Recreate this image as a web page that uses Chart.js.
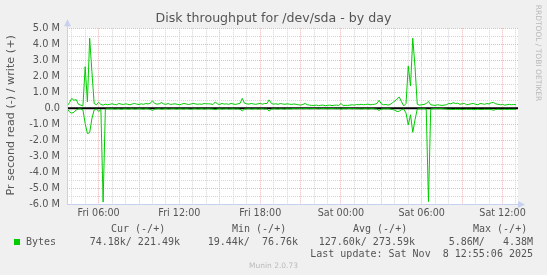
<!DOCTYPE html>
<html>
<head>
<meta charset="utf-8">
<script src="https://cdn.jsdelivr.net/npm/chart.js@4/dist/chart.umd.min.js"></script>
<style>
  html, body { margin: 0; padding: 0; background: #f0f0f0; }
  canvas { display: block; }
</style>
</head>
<body>
<canvas id="chart" width="547" height="275"></canvas>
<script>
/* Munin "Disk throughput for /dev/sda - by day" */

// samples every 10 minutes, starting Fri 03:40 (hours since Fri 00:00)
const START_H = 3 + 40 / 60;
const STEP_H = 10 / 60;

// bytes per second, in millions; write is positive, read negative
const WRITE_M = [
  0.15,0.35,0.62,0.50,0.55,0.25,0.20,0.15,2.60,0.40,
  4.38,2.30,0.30,0.22,0.38,0.24,0.20,0.26,0.22,0.25,
  0.28,0.24,0.22,0.30,0.26,0.24,0.28,0.25,0.22,0.27,
  0.30,0.26,0.24,0.28,0.25,0.30,0.27,0.32,0.46,0.30,
  0.26,0.28,0.36,0.27,0.25,0.30,0.24,0.26,0.28,0.25,
  0.22,0.26,0.30,0.27,0.24,0.26,0.30,0.28,0.25,0.27,
  0.25,0.30,0.28,0.28,0.27,0.24,0.40,0.26,0.25,0.30,
  0.26,0.28,0.25,0.30,0.27,0.24,0.28,0.30,0.62,0.32,
  0.28,0.26,0.30,0.27,0.25,0.28,0.30,0.26,0.30,0.30,
  0.53,0.30,0.26,0.28,0.25,0.30,0.27,0.25,0.28,0.26,
  0.24,0.27,0.25,0.22,0.20,0.24,0.30,0.22,0.20,0.18,
  0.18,0.20,0.17,0.19,0.20,0.16,0.18,0.20,0.17,0.19,
  0.20,0.18,0.30,0.17,0.19,0.18,0.20,0.22,0.20,0.24,
  0.22,0.25,0.22,0.24,0.26,0.22,0.24,0.25,0.30,0.50,
  0.28,0.22,0.24,0.20,0.25,0.35,0.45,0.60,0.70,0.40,
  0.15,0.30,2.65,1.40,4.38,2.60,0.25,0.20,0.22,0.24,
  0.30,0.43,0.22,0.20,0.18,0.22,0.20,0.18,0.20,0.22,
  0.30,0.28,0.35,0.30,0.32,0.25,0.28,0.30,0.22,0.25,
  0.28,0.30,0.25,0.22,0.30,0.28,0.25,0.30,0.27,0.35,
  0.36,0.28,0.25,0.22,0.24,0.20,0.22,0.25,0.22,0.24,0.22
];
const READ_M = [
  -0.05,-0.22,-0.30,-0.25,-0.10,-0.05,-0.04,-0.10,-0.95,-1.58,
  -1.52,-0.65,-0.10,-0.04,-0.20,-0.08,-5.86,-0.05,-0.03,-0.04,
  -0.03,-0.05,-0.04,-0.03,-0.06,-0.04,-0.03,-0.05,-0.04,-0.03,
  -0.05,-0.04,-0.03,-0.04,-0.05,-0.03,-0.04,-0.06,-0.14,-0.05,
  -0.04,-0.03,-0.06,-0.04,-0.03,-0.05,-0.04,-0.03,-0.04,-0.05,
  -0.03,-0.04,-0.05,-0.03,-0.04,-0.06,-0.04,-0.03,-0.05,-0.04,
  -0.03,-0.05,-0.04,-0.03,-0.04,-0.05,-0.08,-0.04,-0.03,-0.05,
  -0.04,-0.03,-0.05,-0.04,-0.03,-0.05,-0.04,-0.06,-0.16,-0.05,
  -0.04,-0.03,-0.05,-0.04,-0.03,-0.05,-0.04,-0.03,-0.05,-0.04,
  -0.17,-0.05,-0.03,-0.04,-0.05,-0.03,-0.04,-0.05,-0.03,-0.04,
  -0.03,-0.02,-0.03,-0.02,-0.02,-0.03,-0.02,-0.02,-0.03,-0.02,
  -0.02,-0.02,-0.03,-0.02,-0.02,-0.02,-0.03,-0.02,-0.02,-0.02,
  -0.03,-0.02,-0.05,-0.02,-0.03,-0.02,-0.02,-0.03,-0.02,-0.03,
  -0.03,-0.04,-0.03,-0.02,-0.04,-0.03,-0.02,-0.04,-0.05,-0.13,
  -0.05,-0.03,-0.04,-0.03,-0.05,-0.08,-0.12,-0.20,-0.18,-0.08,
  -0.05,-0.30,-1.04,-0.40,-1.50,-0.72,-0.05,-0.03,-0.04,-0.03,
  -0.05,-5.83,-0.04,-0.03,-0.02,-0.03,-0.02,-0.03,-0.04,-0.05,
  -0.07,-0.06,-0.08,-0.06,-0.07,-0.06,-0.08,-0.07,-0.06,-0.07,
  -0.06,-0.08,-0.07,-0.06,-0.07,-0.08,-0.06,-0.07,-0.06,-0.08,
  -0.12,-0.07,-0.06,-0.07,-0.08,-0.06,-0.07,-0.06,-0.07,-0.06,-0.07
];

const TICK_HOURS = [6, 12, 18, 24, 30, 36];
const TICK_LABELS = ['Fri 06:00', 'Fri 12:00', 'Fri 18:00', 'Sat 00:00', 'Sat 06:00', 'Sat 12:00'];

const TITLE = 'Disk throughput for /dev/sda - by day';
const Y_TITLE = 'Pr second read (-) / write (+)';
const SERIES_NAME = 'Bytes';
const LEGEND_HEADS = ['Cur (-/+)', 'Min (-/+)', 'Avg (-/+)', 'Max (-/+)'];
const LEGEND_VALUES = ['74.18k/ 221.49k', '19.44k/  76.76k', '127.60k/ 273.59k', '5.86M/   4.38M'];
const LAST_UPDATE = 'Last update: Sat Nov  8 12:55:06 2025';
const VERSION = 'Munin 2.0.73';
const WATERMARK = 'RRDTOOL / TOBI OETIKER';

const GREEN = '#00cc00';
const AXIS = '#c8d0f0';
const MAJOR = '#efb4b4';
const MINOR = '#d4d4d4';
const SANS = "'DejaVu Sans', sans-serif";
const MONO = "'DejaVu Sans Mono', monospace";

const toPoints = arr => arr.map((v, i) => ({ x: START_H + i * STEP_H, y: v }));

/* ---- background, zero rule, axes and texts ---- */
const muninPlugin = {
    id: 'munin',
    beforeDraw(chart) {
        const { ctx, chartArea: a } = chart;
        ctx.save();
        ctx.fillStyle = '#f0f0f0';
        ctx.fillRect(0, 0, chart.width, chart.height);
        ctx.fillStyle = '#ffffff';
        ctx.fillRect(a.left, a.top, a.right - a.left, a.bottom - a.top);
        ctx.restore();
    },
    beforeDatasetsDraw(chart) {
        const { ctx, chartArea: a } = chart;
        const y0 = chart.scales.y.getPixelForValue(0);
        ctx.save();
        ctx.strokeStyle = '#000';
        ctx.lineWidth = 2;
        ctx.beginPath();
        ctx.moveTo(a.left, y0);
        ctx.lineTo(a.right, y0);
        ctx.stroke();
        ctx.restore();
    },
    afterDraw(chart) {
        const { ctx, chartArea: a } = chart;
        const L = Math.round(a.left) + 0.5, B = Math.round(a.bottom) + 0.5;
        ctx.save();
        // axes with arrows
        ctx.strokeStyle = AXIS; ctx.fillStyle = AXIS; ctx.lineWidth = 1;
        ctx.beginPath();
        ctx.moveTo(L, B); ctx.lineTo(L, a.top - 5);
        ctx.moveTo(L, B); ctx.lineTo(a.right + 2, B);
        ctx.stroke();
        ctx.beginPath();
        ctx.moveTo(L, a.top - 9); ctx.lineTo(L - 3.5, a.top - 2); ctx.lineTo(L + 3.5, a.top - 2); ctx.closePath();
        ctx.fill();
        ctx.beginPath();
        ctx.moveTo(a.right + 7, B); ctx.lineTo(a.right, B - 3.5); ctx.lineTo(a.right, B + 3.5); ctx.closePath();
        ctx.fill();

        // title
        ctx.fillStyle = '#555';
        ctx.font = '12.6px ' + SANS;
        ctx.textAlign = 'center'; ctx.textBaseline = 'middle';
        ctx.fillText(TITLE, chart.width / 2, 19);

        // y axis title
        ctx.save();
        ctx.translate(11, (a.top + a.bottom) / 2 - 1);
        ctx.rotate(-Math.PI / 2);
        ctx.font = '11.2px ' + SANS;
        ctx.fillText(Y_TITLE, 0, 0);
        ctx.restore();

        // watermark
        ctx.save();
        ctx.translate(538, 53);
        ctx.rotate(Math.PI / 2);
        ctx.fillStyle = '#b8b8b8';
        ctx.font = '7.5px ' + SANS;
        ctx.fillText(WATERMARK, 0, 0);
        ctx.restore();

        // legend
        ctx.font = '10px ' + MONO;
        ctx.fillStyle = '#555';
        ctx.textAlign = 'left';
        [111, 232, 353, 473].forEach((x, i) => ctx.fillText(LEGEND_HEADS[i], x, 229));
        ctx.fillText(SERIES_NAME, 26, 242);
        ctx.textAlign = 'right';
        [180, 298, 415, 533].forEach((x, i) => ctx.fillText(LEGEND_VALUES[i], x, 242));
        ctx.fillText(LAST_UPDATE, 533, 254);
        ctx.fillStyle = GREEN;
        ctx.fillRect(14, 239, 6, 6);

        ctx.fillStyle = '#bbb';
        ctx.textAlign = 'center';
        ctx.font = '7.5px ' + SANS;
        ctx.fillText(VERSION, chart.width / 2, 266);
        ctx.restore();
    }
};

const HOUR_TICKS = [];
for (let h = 4; h <= 37; h++) HOUR_TICKS.push(h);
const HALF_M_TICKS = [];
for (let v = -12; v <= 10; v++) HALF_M_TICKS.push(v / 2);

new Chart(document.getElementById('chart').getContext('2d'), {
    type: 'line',
    data: {
        datasets: [
            { label: 'read', data: toPoints(READ_M), borderColor: GREEN, borderWidth: 1, pointRadius: 0, tension: 0 },
            { label: 'write', data: toPoints(WRITE_M), borderColor: GREEN, borderWidth: 1, pointRadius: 0, tension: 0 }
        ]
    },
    options: {
        responsive: false, animation: false, devicePixelRatio: 1, events: [],
        layout: { padding: { top: 28.3, right: 29, left: 0, bottom: 0 } },
        plugins: { legend: { display: false }, title: { display: false }, tooltip: { enabled: false } },
        scales: {
            x: {
                type: 'linear', min: 3.65, max: 37.15,
                afterBuildTicks: s => { s.ticks = HOUR_TICKS.map(v => ({ value: v })); },
                afterFit: s => { s.height = 70.7; },
                grid: { drawTicks: false, color: c => (c.tick.value % 3 === 0 ? MAJOR : MINOR) },
                border: { display: false, dash: [1, 1] },
                ticks: {
                    autoSkip: false, maxRotation: 0, padding: 3.5, color: '#555', font: { family: SANS, size: 9.6 },
                    callback: v => { const i = TICK_HOURS.indexOf(v); return i >= 0 ? TICK_LABELS[i] : ''; }
                }
            },
            y: {
                min: -6, max: 5,
                afterBuildTicks: s => { s.ticks = HALF_M_TICKS.map(v => ({ value: v })); },
                afterFit: s => { s.width = 67; },
                grid: { drawTicks: false, color: c => (Number.isInteger(c.tick.value) ? MAJOR : MINOR) },
                border: { display: false, dash: [1, 1] },
                ticks: {
                    autoSkip: false, padding: 7, color: '#555', font: { family: SANS, size: 9.8 },
                    callback: v => (Number.isInteger(v) ? (v === 0 ? '0.0' : v.toFixed(1) + ' M') : '')
                }
            }
        }
    },
    plugins: [muninPlugin]
});
</script>
</body>
</html>
